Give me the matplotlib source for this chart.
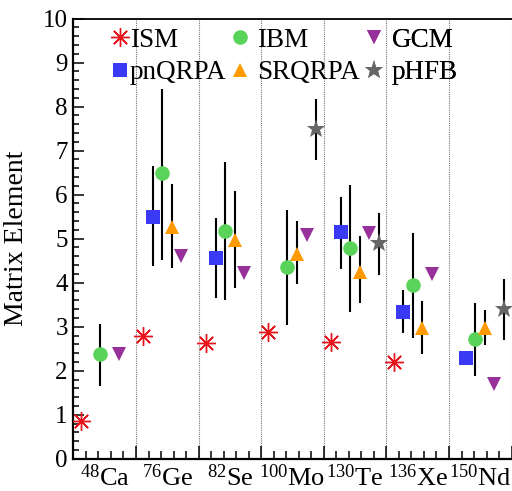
import matplotlib
matplotlib.use('Agg')
import matplotlib.pyplot as plt
import matplotlib.transforms as mtransforms
from matplotlib.lines import Line2D
import numpy as np

plt.rcParams['font.family'] = ['Liberation Serif', 'DejaVu Serif']
plt.rcParams['mathtext.fontset'] = 'custom'
plt.rcParams['mathtext.rm'] = 'Liberation Serif'
plt.rcParams['mathtext.it'] = 'Liberation Serif:italic'

nan = np.nan
nuclei = [r'$^{48}$Ca', r'$^{76}$Ge', r'$^{82}$Se', r'$^{100}$Mo',
          r'$^{130}$Te', r'$^{136}$Xe', r'$^{150}$Nd']

ism = [0.85, 2.80, 2.64, 2.88, 2.65, 2.19, nan]

pnqrpa = [nan, 5.50, 4.56, nan, 5.14, 3.34, 2.30]
pnqrpa_lo = [nan, 4.37, 3.65, nan, 4.32, 2.85, nan]
pnqrpa_hi = [nan, 6.66, 5.46, nan, 5.95, 3.83, nan]

ibm = [2.37, 6.48, 5.18, 4.36, 4.78, 3.95, 2.71]
ibm_lo = [1.65, 4.52, 3.61, 3.05, 3.34, 2.74, 1.89]
ibm_hi = [3.06, 8.41, 6.73, 5.66, 6.22, 5.12, 3.53]

srqrpa = [nan, 5.27, 4.97, 4.66, 4.25, 2.97, 2.97]
srqrpa_lo = [nan, 4.34, 3.89, 3.98, 3.54, 2.38, 2.58]
srqrpa_hi = [nan, 6.24, 6.08, 5.40, 5.06, 3.59, 3.39]

gcm = [2.37, 4.60, 4.22, 5.08, 5.13, 4.20, 1.71]

phfb = [nan, nan, nan, 7.48, 4.89, nan, 3.40]
phfb_lo = [nan, nan, nan, 6.79, 4.18, nan, 2.70]
phfb_hi = [nan, nan, nan, 8.18, 5.59, nan, 4.08]

fig = plt.figure(figsize=(5.12, 4.91), dpi=100)
ax = fig.add_axes([73.4 / 512, 1 - 458.8 / 491, (511.6 - 73.4) / 512, (458.8 - 18.5) / 491])

idx = np.arange(len(nuclei))

def bounds(v, lo, hi):
    v = np.asarray(v, float); lo = np.asarray(lo, float); hi = np.asarray(hi, float)
    return np.vstack([v - lo, hi - v])

c_ism = '#e8141c'
c_pn = '#3a3af5'
c_ibm = '#5ad35a'
c_sr = '#ff9a00'
c_gcm = '#97309a'
c_ph = '#666666'

ekw = dict(ecolor='black', elinewidth=1.5, capsize=2.2, capthick=1.5, linestyle='none')

ax.plot(idx + 0.115, ism, linestyle='none', marker=(8, 2, 0), markersize=13.5,
        markeredgewidth=1.0, color=c_ism, zorder=3)
ax.errorbar(idx + 0.27, pnqrpa, yerr=bounds(pnqrpa, pnqrpa_lo, pnqrpa_hi), marker='s',
            markersize=9.5, color=c_pn, markeredgewidth=0, zorder=3, **ekw)
ax.errorbar(idx + 0.42, ibm, yerr=bounds(ibm, ibm_lo, ibm_hi), marker='o',
            markersize=10.5, color=c_ibm, markeredgewidth=0, zorder=3, **ekw)
ax.errorbar(idx + 0.575, srqrpa, yerr=bounds(srqrpa, srqrpa_lo, srqrpa_hi), marker='^',
            markersize=10.5, color=c_sr, markeredgewidth=0, zorder=3, **ekw)
ax.plot(idx + 0.725, gcm, linestyle='none', marker='v', markersize=10.5,
        color=c_gcm, markeredgewidth=0, zorder=3)
ax.errorbar(idx + 0.875, phfb, yerr=bounds(phfb, phfb_lo, phfb_hi), marker='*',
            markersize=14, color=c_ph, markeredgewidth=0, zorder=3, **ekw)

for k in range(1, len(nuclei) + 1):
    ax.axvline(k, color='#777777', linestyle=(0, (1, 1)), linewidth=0.8, zorder=1)

ax.set_xlim(0, len(nuclei))
ax.set_ylim(0, 10)
ax.set_xticks(np.arange(0, len(nuclei) + 1))
ax.set_xticks(np.arange(0, len(nuclei) + 0.01, 0.2), minor=True)
ax.set_xticklabels([])
ax.set_yticks(np.arange(0, 11))
ax.set_yticks(np.arange(0, 10.01, 0.2), minor=True)
ax.tick_params(axis='x', which='major', direction='in', length=9.5, width=1.1)
ax.tick_params(axis='x', which='minor', direction='in', length=5.5, width=1.1)
ax.tick_params(axis='y', which='major', direction='in', length=8, width=1.1,
               labelsize=18, pad=4)
ax.tick_params(axis='y', which='minor', direction='in', length=4, width=1.1)
ax.tick_params(top=False, right=False, which='both')

for s in ['left', 'bottom']:
    ax.spines[s].set_linewidth(1.6)
ax.spines['top'].set_linewidth(1.3)
ax.spines['right'].set_visible(False)

trans = mtransforms.blended_transform_factory(ax.transData, ax.transAxes)
for i, lab in enumerate(nuclei):
    ax.text(i + 0.5, -0.062, lab, transform=trans, ha='center', va='baseline', fontsize=19)

ax.set_ylabel('Matrix Element', fontsize=20)
ax.yaxis.set_label_coords(-(73.4 - 29) / 438.2, 0.5)

fs = 19.5
def mk(marker, color, ms, mew=0):
    return Line2D([], [], linestyle='none', marker=marker, color=color,
                  markersize=ms, markeredgewidth=mew)

cols = [
    ([mk((8, 2, 0), c_ism, 13.5, 1.0), mk('s', c_pn, 9.5)], ['ISM', 'pnQRPA'], 112.3, 0.1),
    ([mk('o', c_ibm, 10.5), mk('^', c_sr, 10.5)], ['IBM', 'SRQRPA'], 232.3, 0.38),
    ([mk('v', c_gcm, 10.5), mk('*', c_ph, 14)], ['GCM', 'pHFB'], 366.3, 0.38),
]
for handles, labels, xpx, pad in cols:
    leg = ax.legend(handles, labels, loc='center left',
                    bbox_to_anchor=(xpx / 512, 1 - 56.5 / 491),
                    bbox_transform=fig.transFigure, frameon=False, fontsize=fs,
                    borderpad=0, borderaxespad=0, handlelength=0.55,
                    handletextpad=pad, labelspacing=0.27)
    ax.add_artist(leg)

fig.savefig('out.png', dpi=100)
